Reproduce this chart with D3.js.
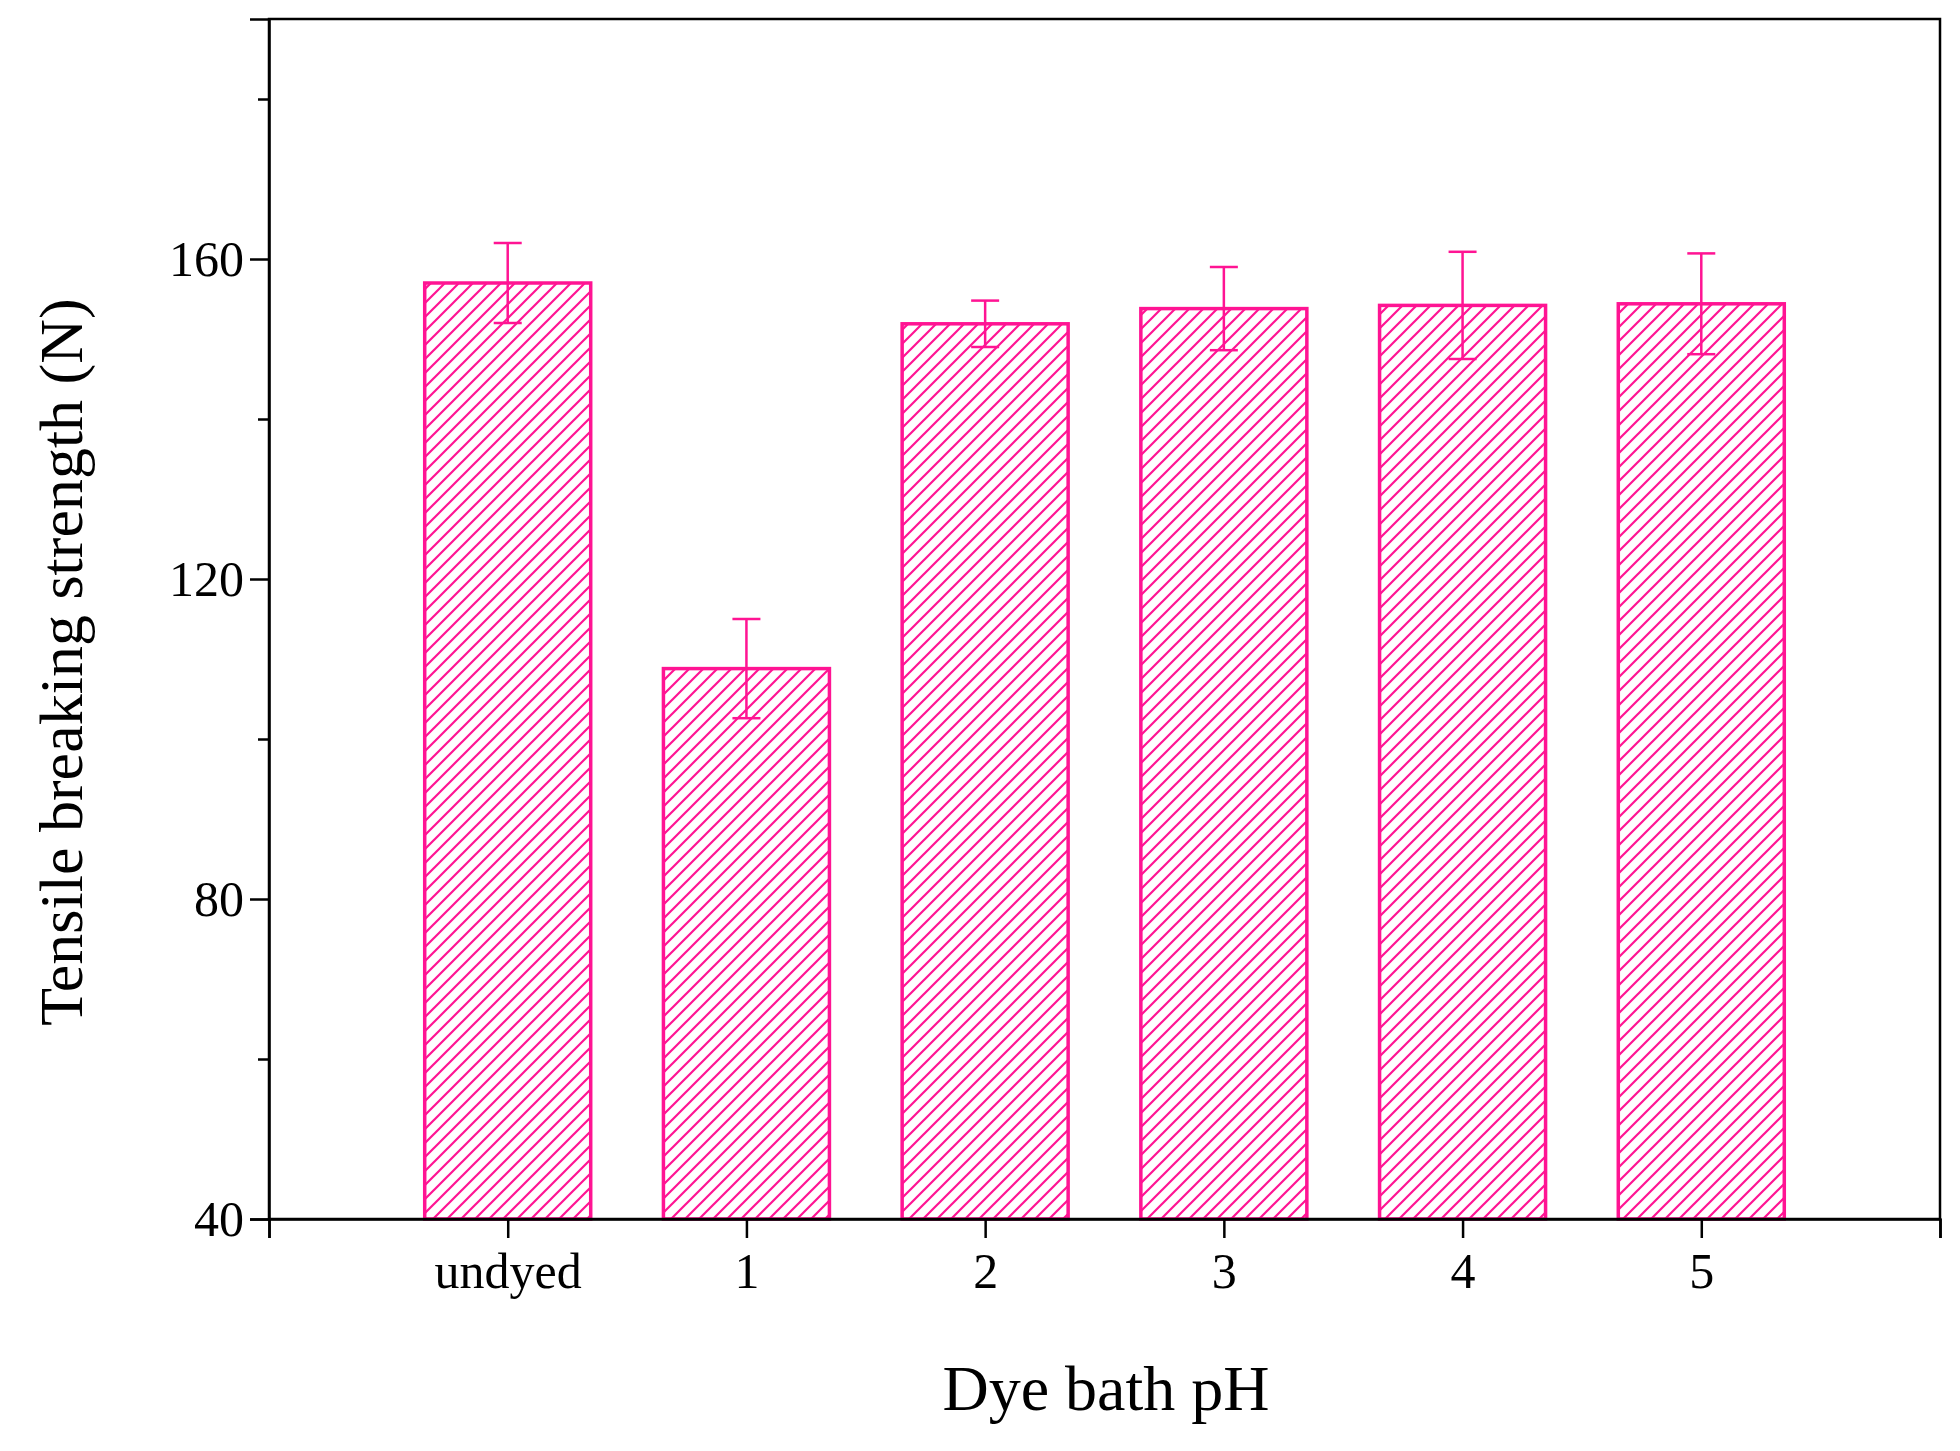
<!DOCTYPE html>
<html>
<head>
<meta charset="utf-8">
<script src="https://cdn.jsdelivr.net/npm/d3@7"></script>
<style>
body { margin: 0; background: #fff; }
text { font-family: "Liberation Serif", "Times New Roman", serif; fill: #000; }
</style>
</head>
<body>
<svg id="chart" width="1960" height="1451"></svg>
<script>
// data
var categories = ['undyed', '1', '2', '3', '4', '5'];
var strength = [157.0, 108.8, 151.9, 153.8, 154.2, 154.4];
var errors = [5.0, 6.2, 2.9, 5.2, 6.7, 6.3];
var yTicks = [40, 80, 120, 160];
var yMinor = [60, 100, 140, 180];

var pink = '#ff1493';
var plotL = 269, plotR = 1940, plotT = 19, plotB = 1219;

var svg = d3.select('#chart');

// hatch pattern for the bars
var defs = svg.append('defs');
defs.append('pattern')
    .attr('id', 'hatch')
    .attr('patternUnits', 'userSpaceOnUse')
    .attr('width', 14).attr('height', 14)
    .append('path')
    .attr('d', 'M-3,3 L3,-3 M0,14 L14,0 M11,17 L17,11')
    .attr('stroke', pink).attr('stroke-width', 2.2);

var x = d3.scaleLinear().domain([-1, 6]).range([plotL, plotR]);
var y = d3.scaleLinear().domain([40, 190]).range([plotB, plotT]);
var barW = 166;

// bars
svg.selectAll('rect.bar')
    .data(strength)
    .enter()
    .append('rect')
    .attr('class', 'bar')
    .attr('x', function (d, i) { return x(i) - barW / 2; })
    .attr('y', function (d) { return y(d); })
    .attr('width', barW)
    .attr('height', function (d) { return y(40) - y(d); })
    .attr('fill', 'url(#hatch)')
    .attr('stroke', pink)
    .attr('stroke-width', 3.5);

// error bars
var eg = svg.selectAll('g.err')
    .data(strength)
    .enter()
    .append('g')
    .attr('class', 'err')
    .attr('stroke', pink)
    .attr('stroke-width', 2.5);
eg.append('line')
    .attr('x1', function (d, i) { return x(i); })
    .attr('x2', function (d, i) { return x(i); })
    .attr('y1', function (d, i) { return y(d + errors[i]); })
    .attr('y2', function (d, i) { return y(d - errors[i]); });
[1, -1].forEach(function (s) {
    eg.append('line')
        .attr('x1', function (d, i) { return x(i) - 14; })
        .attr('x2', function (d, i) { return x(i) + 14; })
        .attr('y1', function (d, i) { return y(d + s * errors[i]); })
        .attr('y2', function (d, i) { return y(d + s * errors[i]); });
});

// frame
svg.append('rect')
    .attr('x', plotL).attr('y', plotT)
    .attr('width', plotR - plotL).attr('height', plotB - plotT)
    .attr('fill', 'none').attr('stroke', '#000').attr('stroke-width', 2.5);

// y axis
svg.append('g')
    .attr('transform', 'translate(' + plotL + ',0)')
    .call(d3.axisLeft(y).tickValues(yTicks).tickSize(19).tickPadding(6));
svg.append('g')
    .attr('transform', 'translate(' + plotL + ',0)')
    .call(d3.axisLeft(y).tickValues(yMinor).tickSize(11).tickFormat(''))
    .select('.domain').remove();

// x axis
svg.append('g')
    .attr('transform', 'translate(0,' + plotB + ')')
    .call(d3.axisBottom(x).tickValues(d3.range(-1, 7)).tickSize(19).tickPadding(14)
        .tickFormat(function (d) { return categories[d] || ''; }));

svg.selectAll('.tick line, .domain').attr('stroke', '#000').attr('stroke-width', 2.5);
svg.selectAll('.tick text').attr('font-size', 50).attr('font-family', 'Liberation Serif');

// titles
svg.append('text')
    .attr('x', 1106).attr('y', 1410)
    .attr('text-anchor', 'middle')
    .attr('font-size', 64)
    .text('Dye bath pH');
svg.append('text')
    .attr('transform', 'translate(82,662) rotate(-90)')
    .attr('text-anchor', 'middle')
    .attr('font-size', 62)
    .text('Tensile breaking strength (N)');
</script>
</body>
</html>
